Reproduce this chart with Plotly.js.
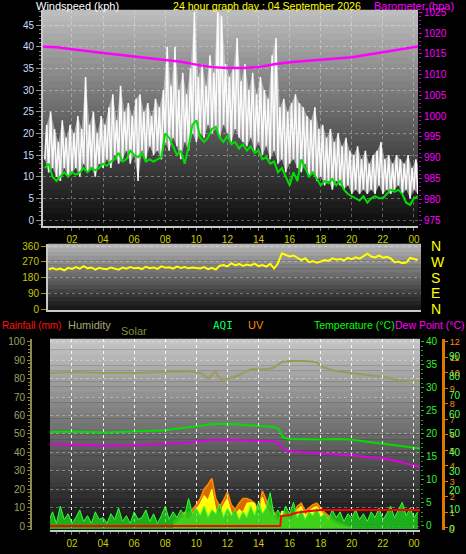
<!DOCTYPE html>
<html>
<head>
<meta charset="utf-8">
<script src="https://cdn.plot.ly/plotly-3.0.1.min.js"></script>
<style>
html,body{margin:0;padding:0;background:#000;}
#chart{width:466px;height:554px;}
</style>
</head>
<body>
<div id="chart"></div>
<script>
// ---------- data (hours of day, 04 September 2026) ----------
const tickHoursLabelFmt = '%H';

// Top panel: gusts (low/high pairs every 15 min, from 00:15), step 7.5 min
const gustStart = 0.25, gustStep = 0.125;
const gust = [
14,22, 11,25, 12,21, 10,18,
9,23, 12,19, 10,22, 11,20,
12,24, 10,21, 13,33, 11,22,
12,25, 10,20, 13,24, 12,22,
14,26, 12,29, 15,23, 13,31,
14,25, 16,27, 13,24, 15,28,
9,29, 16,25, 14,27, 17,24,
15,28, 16,26, 14,30, 18,40,
16,31, 19,40, 17,30, 14,34,
18,29, 16,35, 20,48, 18,33,
20,36, 19,31, 22,38, 20,34,
21,48, 19,47, 22,36, 20,33,
18,35, 21,42, 19,32, 18,36,
17,30, 19,34, 16,29, 18,33,
15,30, 17,28, 14,38, 16,42,
13,26, 14,28, 11,25, 13,27,
14,29, 12,27, 11,26, 13,24,
10,23, 11,26, 9,21, 10,22,
8,19, 9,21, 7,18, 9,20,
8,17, 7,19, 8,16, 6,15,
7,17, 6,14, 7,16, 6,13,
7,15, 6,16, 8,18, 6,14,
7,15, 6,13, 7,15, 8,14,
6,13, 7,15, 5,12, 7,14,
6,12
];

// Average windspeed every 15 min from 00:15
const windStart = 0.25, windStep = 0.25;
const windAvg = [
12, 13, 10, 9,
10, 11, 10, 11,
10.5, 11, 12, 11,
12, 11.5, 12, 13,
12.5, 13.5, 14, 15.5,
13.5, 14, 16, 15,
14.5, 15.5, 13.5, 14,
13.5, 14, 14.5, 20,
19, 17, 15, 16,
13, 17, 22, 23,
19, 18, 19, 21,
21.5, 19, 18, 19.5,
17.5, 18, 16.5, 17.5,
16, 17, 15.5, 16,
14, 14.5, 13, 13.5,
11, 12, 10, 8,
11, 9, 14, 12,
10, 11, 9.5, 8,
9, 8.5, 9.5, 8,
9, 7, 6, 5.5,
5, 4.5, 5.5, 4,
5, 5.5, 5, 5,
6, 7, 6.5, 7,
6, 4, 3.5, 5,
5.5
];

// Barometer (hPa)
const baroHours = [0.1, 1, 2, 3, 4, 5, 6, 7, 8, 9, 10, 11, 12, 13, 14, 15, 16, 17, 18, 19, 20, 21, 22, 23, 24, 24.3];
const baro = [1016.7, 1016.6, 1016.1, 1015.6, 1015.2, 1014.8, 1014.4, 1014.0, 1013.6, 1013.1, 1012.4, 1011.8, 1011.6, 1011.6, 1011.8, 1012.5, 1013.0, 1013.3, 1013.6, 1013.9, 1014.2, 1014.8, 1015.4, 1016.0, 1016.7, 1016.8];

// Middle panel: wind direction (degrees), every 15 min from 00:30
const dirStart = 0.5, dirStep = 0.25;
const windDir = [
228, 235, 226, 232, 222, 236, 230,
240, 231, 245, 233, 238, 226, 236, 230,
228, 238, 232, 225, 237, 231, 240, 233,
236, 229, 242, 234, 238, 230, 244, 236,
239, 231, 243, 235, 240, 233, 238, 236,
232, 240, 228, 236, 226, 248, 252, 244,
262, 250, 258, 247, 255, 249, 260, 246,
252, 243, 258, 232, 262, 318, 308, 300,
306, 295, 280, 290, 268, 275, 265, 272,
280, 275, 290, 282, 286, 278, 292, 285,
296, 288, 302, 316, 300, 295, 306, 294,
298, 290, 268, 272, 262, 266, 292, 284,
280
];
const dirTicks = [0, 90, 180, 270, 360];
const dirLetters = ['N', 'E', 'S', 'W', 'N'];

// Bottom panel
const humHours = [0.5, 2, 4, 6, 8, 9.5, 10.3, 10.8, 11.2, 11.6, 12, 12.5, 13, 13.5, 14, 14.5, 15, 15.5, 16, 17, 17.7, 18.2, 19, 20, 21, 22, 23, 23.5, 24, 24.4];
const humidity = [83, 83.5, 83, 83, 83.5, 84, 83, 80, 84, 79, 80, 81, 83, 85, 85, 85, 86, 89, 89.5, 89.5, 89, 86, 84, 83, 82, 81, 79, 79, 78.5, 79];

const tempHours = [0.5, 2, 4, 6, 8, 9, 10, 11, 12, 13, 14, 15, 15.3, 15.6, 16, 17, 18, 19, 20, 21, 22, 23, 24, 24.4];
const temperature = [20.4, 20.5, 20.3, 20.5, 20.8, 21.2, 21.7, 22.1, 22.2, 22.0, 21.8, 21.5, 21.0, 19.2, 18.9, 18.8, 18.8, 18.9, 18.7, 18.3, 17.9, 17.4, 17.0, 16.8];
const dewPoint = [17.8, 17.6, 17.4, 17.5, 17.8, 18.0, 18.3, 18.6, 18.7, 18.6, 18.5, 18.4, 18.0, 16.6, 16.2, 16.0, 15.8, 15.6, 15.3, 15.0, 14.7, 14.0, 13.2, 12.8];

const rainHours = [0.5, 15.4, 15.45, 16, 16.5, 17, 17.5, 18, 24.4];
const rainfall = [0, 0, 1.6, 1.8, 2.2, 2.4, 2.5, 2.6, 2.6];

const sunStart = 8.5, sunStep = 0.25;
const uv = [
0.3, 0.6, 0.8, 1.0, 0.9, 1.2, 1.5, 1.9, 2.5, 2.8, 3.2, 1.9, 1.4, 1.8, 2.3, 1.5,
1.2, 1.6, 1.9, 1.9, 1.8, 1.6, 1.1, 2.4, 1.8, 1.4, 1.0, 0.6, 0.3, 0.4, 0.7, 0.9,
1.4, 1.6, 1.1, 1.3, 1.5, 1.6, 1.3, 1.0, 0.8, 0.6, 0.4, 0.3, 0.2, 0.1, 0
];
const solar = [
15, 40, 60, 75, 55, 90, 120, 160, 210, 180, 250, 120, 90, 150, 190, 100,
80, 120, 100, 160, 165, 160, 70, 200, 130, 100, 70, 40, 110, 100, 40, 70,
120, 140, 80, 110, 130, 140, 110, 80, 60, 40, 25, 15, 8, 3, 0
];

const aqiStart = 0.5, aqiStep = 0.25;
const aqi = [
4, 9, 3, 12, 5, 8, 3,
6, 10, 4, 7, 3, 9, 5, 6,
3, 8, 5, 11, 4, 7, 3, 9,
5, 6, 10, 4, 8, 3, 7, 12,
5, 9, 6, 10, 7, 16, 8, 11,
7, 12, 6, 10, 8, 13, 6, 11,
7, 10, 5, 9, 6, 12, 7, 14,
8, 11, 19, 7, 10, 6, 12, 8,
14, 6, 10, 5, 9, 7, 11, 6,
8, 5, 10, 6, 9, 4, 8, 6,
10, 5, 8, 4, 9, 6, 11, 5,
8, 12, 6, 10, 14, 7, 11, 6,
9
];

// ---------- helpers ----------
const W = 466, H = 554;
const BASE = Date.UTC(2026, 8, 4);
const T = h => BASE + h * 3600000;
const series = (start, step, arr) => arr.map((_, i) => T(start + i * step));
const px = v => v / W;
const py = v => 1 - v / H;

const TOP = {x: [px(43), px(418)], y: [py(226), py(10)]};
const MID = {x: [px(48), px(421)], y: [py(310), py(244)]};
const BOT = {x: [px(50), px(420)], y: [py(530), py(339)]};

const FONT = 'Liberation Sans, Arial, sans-serif';
const GRID = 'rgba(255,255,255,0.33)';

function bands(dom, top, bottom, n) {
  const out = [];
  for (let i = 0; i < n; i++) {
    const t = (i + 0.5) / n;
    const c = Math.round(top + (bottom - top) * t);
    const y1 = dom.y[1] - (dom.y[1] - dom.y[0]) * i / n;
    const y0 = dom.y[1] - (dom.y[1] - dom.y[0]) * (i + 1) / n;
    out.push({type: 'rect', xref: 'paper', yref: 'paper', x0: dom.x[0], x1: dom.x[1],
      y0: y0, y1: y1 + 0.0005, fillcolor: `rgb(${c},${c},${c})`, line: {width: 0}, layer: 'below'});
  }
  return out;
}

const xCommon = {
  type: 'date', tickformat: tickHoursLabelFmt, tick0: T(0), dtick: 7200000,
  tickfont: {family: FONT, size: 10, color: '#cccc00'},
  ticks: 'outside', ticklen: 3, tickcolor: '#808080',
  minor: {dtick: 1800000, ticklen: 2, tickcolor: '#606060', ticks: 'outside'},
  showgrid: true, griddash: 'dot', gridcolor: GRID, gridwidth: 1,
  showline: true, linecolor: '#c8c8c8', linewidth: 2, zeroline: false, fixedrange: true,
  automargin: false
};

// gust envelope (lows = first of each pair, highs = second)
const gustTimes = series(gustStart, gustStep, gust);
const lowTimes = gustTimes.filter((_, i) => i % 2 === 0), lowVals = gust.filter((_, i) => i % 2 === 0);
const highTimes = gustTimes.filter((_, i) => i % 2 === 1), highVals = gust.filter((_, i) => i % 2 === 1);

// ---------- traces ----------
const traces = [
  // bottom panel
  {x: humHours.map(T), y: humidity, xaxis: 'x', yaxis: 'y2', mode: 'lines',
   line: {color: '#9c9c5a', width: 2}, hoverinfo: 'skip'},
  {x: tempHours.map(T), y: temperature, xaxis: 'x', yaxis: 'y3', mode: 'lines',
   line: {color: '#00e000', width: 2}, hoverinfo: 'skip'},
  {x: tempHours.map(T), y: dewPoint, xaxis: 'x', yaxis: 'y3', mode: 'lines',
   line: {color: '#e000e0', width: 2}, hoverinfo: 'skip'},
  {x: series(sunStart, sunStep, uv), y: uv, xaxis: 'x', yaxis: 'y4', mode: 'lines',
   fill: 'tozeroy', fillcolor: '#d86a00', line: {color: '#ff8c00', width: 1.5}, hoverinfo: 'skip'},
  {x: series(sunStart, sunStep, solar), y: solar, xaxis: 'x', yaxis: 'y5', mode: 'lines',
   fill: 'tozeroy', fillcolor: '#ffff00', line: {color: '#ffff30', width: 1}, hoverinfo: 'skip'},
  {x: series(aqiStart, aqiStep, aqi), y: aqi, xaxis: 'x', yaxis: 'y6', mode: 'lines',
   fill: 'tozeroy', fillcolor: 'rgba(30,200,30,0.85)', line: {color: '#30ff30', width: 1}, hoverinfo: 'skip'},
  {x: rainHours.map(T), y: rainfall, xaxis: 'x', yaxis: 'y7', mode: 'lines',
   line: {color: '#ff0000', width: 2}, hoverinfo: 'skip'},
  // top panel
  {x: lowTimes, y: lowVals, xaxis: 'x2', yaxis: 'y8', mode: 'lines',
   line: {color: 'rgba(0,0,0,0)', width: 0}, hoverinfo: 'skip'},
  {x: highTimes, y: highVals, xaxis: 'x2', yaxis: 'y8', mode: 'lines', fill: 'tonexty',
   fillcolor: 'rgba(225,225,225,0.55)', line: {color: 'rgba(0,0,0,0)', width: 0}, hoverinfo: 'skip'},
  {x: gustTimes, y: gust, xaxis: 'x2', yaxis: 'y8', mode: 'lines',
   line: {color: 'rgba(255,255,255,0.95)', width: 1.6}, hoverinfo: 'skip'},
  {x: series(windStart, windStep, windAvg), y: windAvg, xaxis: 'x2', yaxis: 'y8', mode: 'lines',
   line: {color: '#00e000', width: 2}, hoverinfo: 'skip'},
  {x: baroHours.map(T), y: baro, xaxis: 'x2', yaxis: 'y9', mode: 'lines',
   line: {color: '#ff00ff', width: 2.5}, hoverinfo: 'skip'},
  // middle panel
  {x: series(dirStart, dirStep, windDir), y: windDir, xaxis: 'x3', yaxis: 'y10', mode: 'lines',
   line: {color: '#ffff00', width: 2}, hoverinfo: 'skip'},
  {x: [T(1)], y: [-1000], xaxis: 'x3', yaxis: 'y11', mode: 'markers',
   marker: {opacity: 0}, hoverinfo: 'skip'}
];

// ---------- layout ----------
const ann = (text, x, y, color, size, family) => ({
  text: text, x: px(x), y: py(y), xref: 'paper', yref: 'paper', xanchor: 'left', yanchor: 'middle',
  showarrow: false, font: {family: family || FONT, size: size || 12, color: color}
});

const yBase = {fixedrange: true, automargin: false, zeroline: false};
const over = (base, dom, extra) => Object.assign({}, yBase, {overlaying: base, domain: dom}, extra);

const layout = {
  width: W, height: H,
  margin: {l: 0, r: 0, t: 0, b: 0, pad: 0},
  paper_bgcolor: '#000', plot_bgcolor: 'rgba(0,0,0,0)',
  showlegend: false,
  font: {family: FONT, size: 10, color: '#ccc'},
  shapes: [].concat(bands(TOP, 192, 10, 36), bands(MID, 185, 20, 16), bands(BOT, 200, 14, 36)),
  annotations: [
    ann('Windspeed (kph)', 34, 6, '#ffffff', 11),
    ann('24 hour graph day : 04 September 2026', 171, 6, '#ffff00', 10.6),
    ann('Barometer (hpa)', 372, 6, '#ff00ff', 11),
    ann('Rainfall (mm)', 0, 325, '#ff1010', 10),
    ann('Humidity', 66, 325, '#a8a86c', 11),
    ann('Solar', 119, 331, '#8c8c40', 11),
    ann('AQI', 211, 325, '#00ff66', 11, 'DejaVu Sans Mono, monospace'),
    ann('UV', 246, 325, '#ff8c00', 11),
    ann('Temperature (°C)', 312, 325, '#00ff00', 10.5),
    ann('Dew Point (°C)', 393, 325, '#ff00ff', 10.5)
  ],
  // bottom panel
  xaxis: Object.assign({}, xCommon, {domain: BOT.x, anchor: 'y', range: [T(0.585), T(24.39)]}),
  yaxis: Object.assign({}, yBase, {domain: BOT.y, anchor: 'x', side: 'left', range: [-0.65, 30.44], dtick: 5, tick0: 0,
    tickfont: {family: FONT, size: 10, color: '#ff2020'}, ticks: 'outside', ticklen: 4, tickcolor: '#ff2020',
    minor: {dtick: 1, ticklen: 2, tickcolor: '#c00000', ticks: 'outside'},
    showgrid: false, showline: true, linecolor: '#c8c8c8', linewidth: 2}),
  yaxis2: over('y', BOT.y, {anchor: 'free', position: px(31), side: 'left', range: [-2.17, 101.47],
    dtick: 10, tick0: 0, tickfont: {family: FONT, size: 10, color: '#a0a060'},
    ticks: 'outside', ticklen: 3, tickcolor: '#8c8c48',
    minor: {dtick: 2, ticklen: 2, tickcolor: '#8c8c48', ticks: 'outside'},
    showline: true, linecolor: '#8c8c48', linewidth: 2,
    showgrid: true, griddash: 'dot', gridcolor: GRID}),
  yaxis3: over('y', BOT.y, {anchor: 'x', side: 'right', range: [-0.87, 40.59], dtick: 5, tick0: 0,
    tickfont: {family: FONT, size: 10, color: '#33ee33'}, ticks: 'outside', ticklen: 3, tickcolor: '#20c020',
    minor: {dtick: 1, ticklen: 2, tickcolor: '#20a020', ticks: 'outside'},
    showgrid: false, showline: false}),
  yaxis4: over('y', BOT.y, {anchor: 'free', position: px(443), side: 'right', range: [-0.13, 12.19],
    dtick: 1, tick0: 0, tickfont: {family: FONT, size: 9, color: '#ff8c1a'},
    ticks: 'outside', ticklen: 3, tickcolor: '#e07800',
    showline: true, linecolor: '#e07800', linewidth: 3, showgrid: false}),
  yaxis5: over('y', BOT.y, {visible: false, range: [-13, 1219]}),
  yaxis6: over('y', BOT.y, {anchor: 'free', position: px(443), side: 'right', range: [-0.52, 99.4],
    dtick: 10, tick0: 0, tickfont: {family: FONT, size: 10, color: '#55ff55'},
    ticks: 'outside', ticklen: 3, tickcolor: 'rgba(0,0,0,0)',
    showline: false, showgrid: false}),
  yaxis7: over('y', BOT.y, {visible: false, range: [-0.65, 30.44]}),
  // top panel
  xaxis2: Object.assign({}, xCommon, {domain: TOP.x, anchor: 'y8', range: [T(0.135), T(24.26)]}),
  yaxis8: Object.assign({}, yBase, {domain: TOP.y, anchor: 'x2', side: 'left', range: [-1.38, 48.46], dtick: 5, tick0: 0,
    tickfont: {family: FONT, size: 10, color: '#c8dcff'}, ticks: 'outside', ticklen: 5, tickcolor: '#909090',
    minor: {dtick: 1, ticklen: 2, tickcolor: '#808080', ticks: 'outside'},
    showgrid: true, griddash: 'dot', gridcolor: GRID,
    showline: true, linecolor: '#c8c8c8', linewidth: 2}),
  yaxis9: over('y8', TOP.y, {anchor: 'x2', side: 'right', range: [973.56, 1025.55], dtick: 5, tick0: 0,
    tickfont: {family: FONT, size: 10, color: '#ff00ff'}, ticks: 'outside', ticklen: 3, tickcolor: '#d000d0',
    minor: {dtick: 1, ticklen: 2, tickcolor: '#b000b0', ticks: 'outside'},
    showgrid: false, showline: false}),
  // middle panel
  xaxis3: Object.assign({}, xCommon, {domain: MID.x, anchor: 'y10', range: [T(0.456), T(24.45)],
    showticklabels: false, ticks: '', minor: {ticks: ''}, showgrid: false}),
  yaxis10: Object.assign({}, yBase, {domain: MID.y, anchor: 'x3', side: 'left', range: [-4, 371.4], tickvals: dirTicks,
    tickfont: {family: FONT, size: 10, color: '#c8c800'}, ticks: 'outside', ticklen: 5, tickcolor: '#a0a000',
    showgrid: true, griddash: 'dot', gridcolor: GRID,
    showline: true, linecolor: '#c8c8c8', linewidth: 2}),
  yaxis11: over('y10', MID.y, {anchor: 'free', position: px(430), side: 'right', range: [-4, 371.4],
    tickvals: dirTicks, ticktext: dirLetters, tickfont: {family: FONT, size: 14, color: '#ffff00'},
    ticks: '', showgrid: false, showline: false})
};

Plotly.newPlot('chart', traces, layout, {displayModeBar: false, staticPlot: true});
</script>
</body>
</html>
